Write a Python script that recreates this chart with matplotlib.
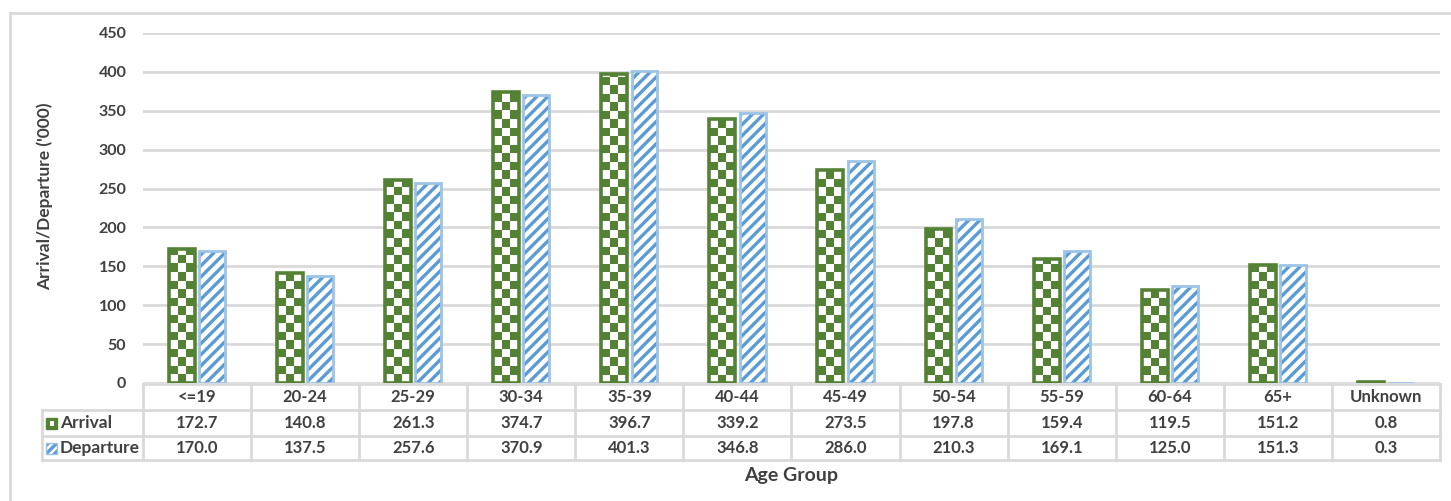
import numpy as np
import matplotlib
matplotlib.use("Agg")
import matplotlib.pyplot as plt
import matplotlib.transforms as mtrans
from matplotlib.colors import ListedColormap
from matplotlib.patches import Rectangle

age_groups = ["<=19", "20-24", "25-29", "30-34", "35-39", "40-44", "45-49",
              "50-54", "55-59", "60-64", "65+", "Unknown"]
arrival = [172.7, 140.8, 261.3, 374.7, 396.7, 339.2, 273.5, 197.8, 159.4, 119.5, 151.2, 0.8]
departure = [170.0, 137.5, 257.6, 370.9, 401.3, 346.8, 286.0, 210.3, 169.1, 125.0, 151.3, 0.3]
series_names = ["Arrival", "Departure"]

green = "#548235"
blue_line = "#5B9BD5"
blue_edge = "#9DC3E6"
grid_c = "#D9D9D9"
txt_c = "#404040"

W, H = 1451, 501
plt.rcParams["font.family"] = ["Lato", "DejaVu Sans"]
plt.rcParams["hatch.linewidth"] = 2.4

fig = plt.figure(figsize=(W / 100, H / 100), dpi=100)
ax = fig.add_axes([143 / W, (H - 383) / H, (1440 - 143) / W, 350 / H])


def fy(py):
    # pixel from top -> figure fraction
    return (H - py) / H


def fx(px):
    return px / W


x = np.arange(len(age_groups))
bw = 0.24
off = 0.14

# arrival bars: outline + checker image clipped to the bar
bars_a = ax.bar(x - off, arrival, bw, facecolor="none", edgecolor=green, linewidth=2.6, zorder=3)
sq_x = 8.5 / 108.0
sq_y = 8.5 * 450 / 350.0
cmap_chk = ListedColormap(["white", green])
for b in bars_a:
    x0 = b.get_x()
    h = b.get_height()
    nc = int(np.ceil(b.get_width() / sq_x))
    nr = max(1, int(np.ceil(h / sq_y)))
    chk = np.indices((nr, nc)).sum(axis=0) % 2
    im = ax.imshow(chk, extent=(x0, x0 + nc * sq_x, 0, nr * sq_y), origin="lower",
                   cmap=cmap_chk, interpolation="nearest", aspect="auto", zorder=2)
    im.set_clip_path(b)

# departure bars: diagonal hatch, lighter outline on top
ax.bar(x + off, departure, bw, facecolor="white", edgecolor=blue_line, linewidth=0,
       hatch="///", zorder=2)
ax.bar(x + off, departure, bw, facecolor="none", edgecolor=blue_edge, linewidth=2, zorder=3)

ax.set_xlim(-0.5, len(age_groups) - 0.5)
ax.set_ylim(0, 450)
ax.set_yticks(np.arange(0, 451, 50))
ax.set_xticks([])
ax.yaxis.grid(True, color=grid_c, linewidth=2)
ax.set_axisbelow(True)
for s in ax.spines.values():
    s.set_visible(False)
ax.tick_params(axis="y", length=0, pad=12, labelsize=11.5, labelcolor=txt_c)
for t in ax.get_yticklabels():
    t.set_fontweight("bold")

# data table under the axis
row_y = [384, 410, 436, 460]
blend = mtrans.blended_transform_factory(ax.transData, fig.transFigure)
lkw = dict(color=grid_c, linewidth=2, clip_on=False, zorder=1)

# horizontal lines
ax.plot([-0.5, len(age_groups) - 0.5], [fy(row_y[0])] * 2, transform=blend, **lkw)
for ry in row_y[1:]:
    fig.add_artist(plt.Line2D([fx(42), fx(1440)], [fy(ry)] * 2, **lkw))
# vertical lines
for i in range(len(age_groups) + 1):
    ax.plot([i - 0.5, i - 0.5], [fy(row_y[0]), fy(row_y[-1])], transform=blend, **lkw)
fig.add_artist(plt.Line2D([fx(42), fx(42)], [fy(row_y[1]), fy(row_y[-1])], **lkw))

tkw = dict(ha="center", va="center", fontsize=12, fontweight="bold", color=txt_c)
for i, g in enumerate(age_groups):
    ax.text(i, (fy(row_y[0]) + fy(row_y[1])) / 2, g, transform=blend, **tkw)
    ax.text(i, (fy(row_y[1]) + fy(row_y[2])) / 2, "%.1f" % arrival[i], transform=blend, **tkw)
    ax.text(i, (fy(row_y[2]) + fy(row_y[3])) / 2, "%.1f" % departure[i], transform=blend, **tkw)

# row labels with little legend keys
for k, name in enumerate(series_names):
    yc = (fy(row_y[k + 1]) + fy(row_y[k + 2])) / 2
    fig.text(fx(60), yc, name, ha="left", va="center", fontsize=12.5, fontweight="bold", color=txt_c)
    kx, ky, ks = fx(46), yc - 5.5 / H, 11
    if k == 0:
        fig.add_artist(Rectangle((kx, ky), ks / W, ks / H, transform=fig.transFigure,
                                 facecolor=green, edgecolor=green, linewidth=1))
        fig.add_artist(Rectangle((kx + 4 / W, ky + 3 / H), 4 / W, 5 / H, transform=fig.transFigure,
                                 facecolor="white", edgecolor="none"))
    else:
        fig.add_artist(Rectangle((kx, ky), ks / W, ks / H, transform=fig.transFigure,
                                 facecolor="white", edgecolor=blue_line, linewidth=0, hatch="////"))
        fig.add_artist(Rectangle((kx, ky), ks / W, ks / H, transform=fig.transFigure,
                                 facecolor="none", edgecolor=blue_edge, linewidth=1))

fig.text(fx(45), fy(196), "Arrival/Departure ('000)", rotation=90, ha="center", va="center",
         fontsize=12.5, fontweight="bold", color=txt_c)
fig.text(fx(791), fy(476), "Age Group", ha="center", va="center",
         fontsize=14, fontweight="bold", color=txt_c)

# outer frame
fig.add_artist(plt.Line2D([fx(10), 1], [fy(13)] * 2, color=grid_c, linewidth=2))
fig.add_artist(plt.Line2D([fx(10), fx(10)], [fy(13), 0], color=grid_c, linewidth=2))

fig.savefig("out.png", dpi=100)
